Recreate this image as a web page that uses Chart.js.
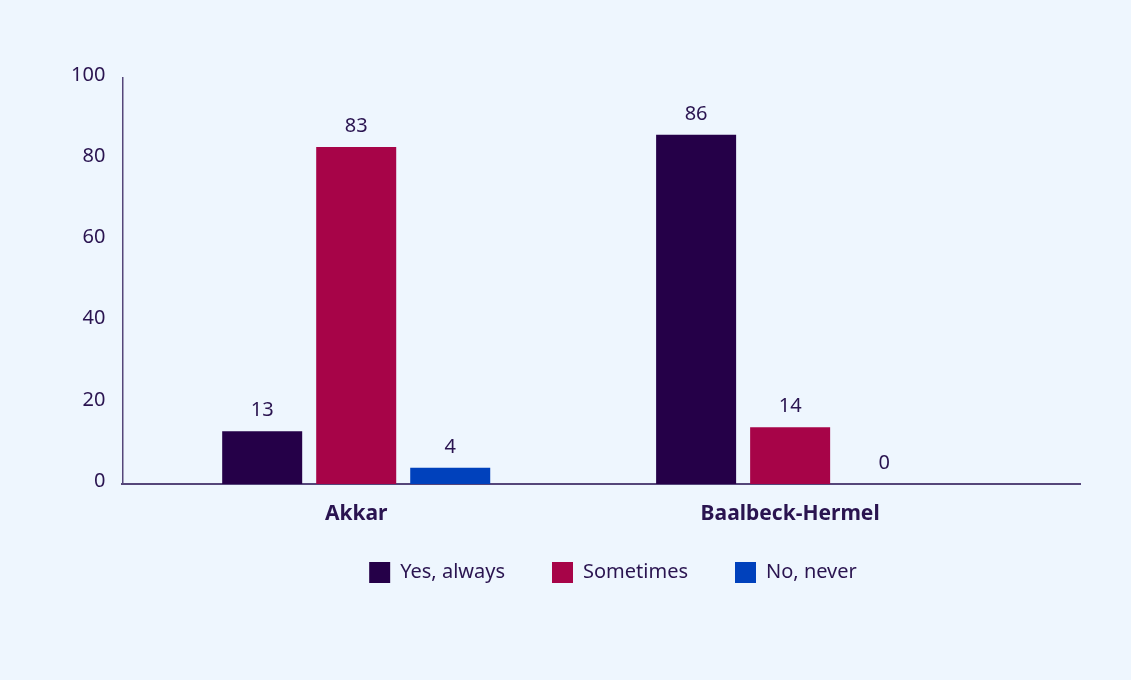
<!DOCTYPE html>
<html>
<head>
<meta charset="utf-8">
<script src="https://cdn.jsdelivr.net/npm/chart.js@4/dist/chart.umd.min.js"></script>
<style>
  html, body { margin: 0; padding: 0; background: #EEF6FE; }
  #wrap { width: 1131px; height: 680px; position: relative; }
</style>
</head>
<body>
<div id="wrap"><canvas id="chart"></canvas></div>
<script>
// Regions and answer shares (%)
const categories = ['Akkar', 'Baalbeck-Hermel'];
const seriesNames = ['Yes, always', 'Sometimes', 'No, never'];
const yesAlways = [13, 86];
const sometimes = [83, 14];
const noNever = [4, 0];
const yTicks = [0, 20, 40, 60, 80, 100];

const TEXT = '#2A1450';
const AXIS = '#55467A';
const colors = ['#250048', '#A70448', '#0041BC'];
const seriesValues = [yesAlways, sometimes, noNever];

// Value label above every bar
const valueLabels = {
  id: 'valueLabels',
  afterDatasetsDraw(chart) {
    const ctx = chart.ctx;
    ctx.save();
    ctx.font = '20px "Noto Sans"';
    ctx.fillStyle = TEXT;
    ctx.textAlign = 'center';
    ctx.textBaseline = 'alphabetic';
    chart.data.datasets.forEach((ds, di) => {
      chart.getDatasetMeta(di).data.forEach((bar, i) => {
        ctx.fillText(String(ds.data[i].y), bar.x, bar.y - 15);
      });
    });
    ctx.restore();
  }
};

// After layout: let the category labels overflow their slim box and
// nudge the legend block to the right of the canvas centre
const layoutTweaks = {
  id: 'layoutTweaks',
  afterLayout(chart) {
    const x = chart.scales.x;
    x.bottom = x.top + 60;
    x.height = 60;
    if (chart.legend) chart.legend.left += 92;
  }
};

new Chart(document.getElementById('chart'), {
  type: 'bar',
  data: {
    datasets: seriesNames.map((name, s) => ({
      label: name,
      data: seriesValues[s].map((v, i) => ({ x: i, y: v })),
      backgroundColor: colors[s],
      borderWidth: 0,
      categoryPercentage: 0.65,
      barPercentage: 0.851
    }))
  },
  options: {
    responsive: true,
    maintainAspectRatio: false,
    animation: false,
    layout: { padding: { top: 78, right: 51, left: 54, bottom: 87 } },
    plugins: {
      tooltip: { enabled: false },
      legend: {
        position: 'bottom',
        labels: {
          color: TEXT,
          font: { family: 'Noto Sans', size: 20 },
          boxWidth: 21,
          boxHeight: 21,
          padding: 47,
          useBorderRadius: false
        }
      }
    },
    scales: {
      x: {
        type: 'linear',
        offset: false,
        min: -0.539,
        max: 1.668,
        afterBuildTicks(scale) {
          scale.ticks = categories.map((_, i) => ({ value: i }));
        },
        afterFit(scale) {
          scale.height = 31;
        },
        grid: { display: false, drawTicks: false, offset: false },
        border: { display: true, color: AXIS, width: 2 },
        ticks: {
          color: TEXT,
          font: { family: 'Noto Sans', size: 21, weight: 'bold' },
          padding: 17,
          maxRotation: 0,
          callback: (v) => categories[v] ?? ''
        }
      },
      y: {
        min: 0,
        max: 100,
        afterBuildTicks(scale) {
          scale.ticks = yTicks.map(v => ({ value: v }));
        },
        grid: { display: false, drawTicks: false },
        border: { display: true, color: AXIS, width: 1.5 },
        ticks: {
          color: TEXT,
          font: { family: 'Noto Sans', size: 20 },
          padding: 17,
          labelOffset: -3
        }
      }
    }
  },
  plugins: [valueLabels, layoutTweaks]
});
</script>
</body>
</html>
